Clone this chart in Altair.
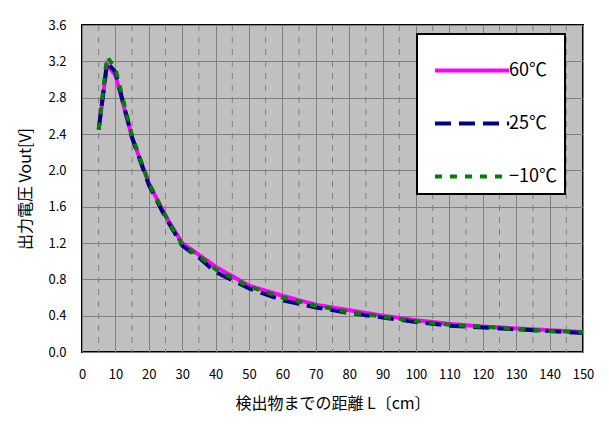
import altair as alt
import pandas as pd

distance = [5, 7.5, 10, 15, 20, 25, 30, 35, 40, 50, 60, 70, 80, 90, 100, 110, 120, 130, 140, 150]
v60 = [2.45, 3.16, 3.05, 2.36, 1.86, 1.50, 1.20, 1.07, 0.94, 0.73, 0.62, 0.52, 0.46, 0.40, 0.35, 0.31, 0.28, 0.26, 0.24, 0.22]
v25 = [2.45, 3.19, 3.08, 2.36, 1.84, 1.48, 1.17, 1.04, 0.88, 0.70, 0.57, 0.49, 0.43, 0.38, 0.33, 0.29, 0.27, 0.25, 0.23, 0.21]
vm10 = [2.45, 3.25, 3.12, 2.38, 1.86, 1.50, 1.18, 1.06, 0.91, 0.72, 0.60, 0.51, 0.44, 0.39, 0.34, 0.30, 0.28, 0.25, 0.23, 0.22]
series_names = ["60℃", "25℃", "−10℃"]
series_colors = ["#FF00FF", "#000080", "#008000"]
series_dashes = [[1, 0], [16, 8], [7, 8]]
x_ticks = list(range(0, 151, 10))
x_minor = list(range(5, 150, 10))
y_ticks = [0.0, 0.4, 0.8, 1.2, 1.6, 2.0, 2.4, 2.8, 3.2, 3.6]

rows = []
for name, vals in zip(series_names, [v60, v25, vm10]):
    for d, v in zip(distance, vals):
        rows.append({"L": d, "V": v, "series": name})
df = pd.DataFrame(rows)
df["order"] = df["series"].map({n: i for i, n in enumerate(series_names)})

font = "Noto Sans CJK JP"

xs = alt.Scale(domain=[0, 150], nice=False)
ys = alt.Scale(domain=[0, 3.6], nice=False)

x_axis = alt.Axis(values=x_ticks, title="検出物までの距離 L〔cm〕", grid=True,
                  gridColor="#808080", gridWidth=1, ticks=False, domain=False,
                  labelPadding=16, titlePadding=14, labelFontSize=13,
                  titleFontSize=16, labelFont=font, titleFont=font,
                  labelColor="#000", titleColor="#000", titleFontWeight="normal",
                  labelFlush=False, labelOverlap=False)

minor = alt.Chart(pd.DataFrame({"L": x_minor})).mark_rule(
    color="#808080", strokeWidth=1, strokeDash=[6, 6]
).encode(x=alt.X("L:Q", scale=xs, axis=x_axis))

lines = alt.Chart(df).mark_line(strokeWidth=4, strokeCap="butt").encode(
    x=alt.X("L:Q", scale=xs, axis=x_axis),
    y=alt.Y("V:Q", scale=ys,
            axis=alt.Axis(values=y_ticks, format=".1f", title="出力電圧 Vout[V]", grid=True,
                          gridColor="#808080", gridWidth=1, ticks=False, domain=False,
                          labelPadding=16, titlePadding=14, labelFontSize=13,
                          titleFontSize=16, labelFont=font, titleFont=font,
                          labelColor="#000", titleColor="#000", titleFontWeight="normal",
                          labelOverlap=False)),
    color=alt.Color("series:N",
                    scale=alt.Scale(domain=series_names, range=series_colors),
                    legend=alt.Legend(title=None, orient="none", legendX=335, legendY=9,
                                      fillColor="white", strokeColor="black",
                                      padding=8, rowPadding=15,
                                      symbolType="M-0.7,0H2.1", symbolSize=2809,
                                      symbolStrokeWidth=4, labelOffset=27,
                                      labelFontSize=18, labelFont=font, labelColor="#000",
                                      labelLimit=200)),
    strokeDash=alt.StrokeDash("series:N",
                              scale=alt.Scale(domain=series_names, range=series_dashes),
                              legend=None),
    order=alt.Order("order:Q"),
    detail="series:N",
)

chart = alt.layer(minor, lines).properties(
    width=501, height=327,
    autosize=alt.AutoSizeParams(type="none"),
    padding={"left": 74, "top": 17, "right": 18, "bottom": 75},
    background="white",
).configure_view(
    fill="#C0C0C0", stroke="black", strokeWidth=2
).configure_legend(strokeWidth=2)

chart.save("out.html", embed_options={"renderer": "svg", "actions": False})
